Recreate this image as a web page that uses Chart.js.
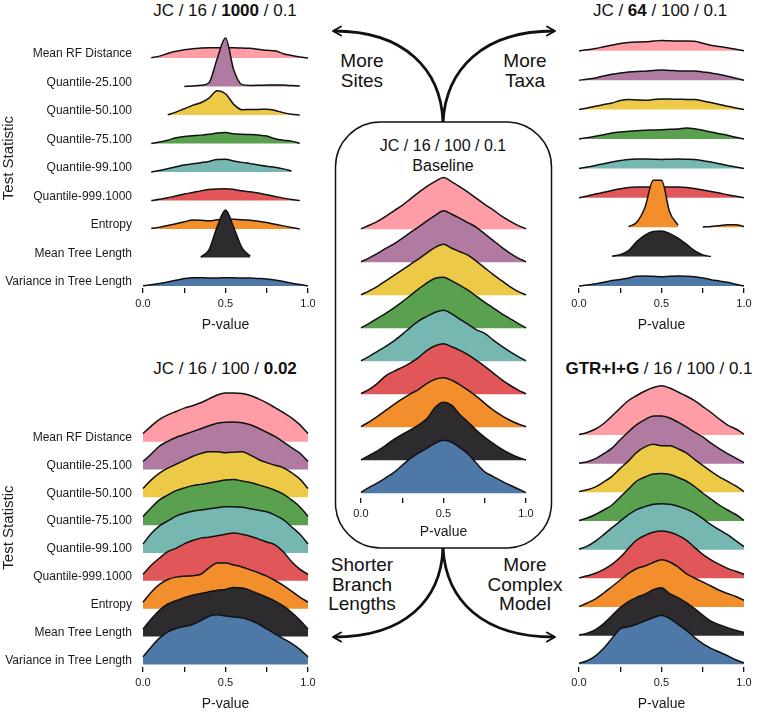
<!DOCTYPE html>
<html>
<head>
<meta charset="utf-8">
<script src="https://cdn.jsdelivr.net/npm/chart.js@4.4.1/dist/chart.umd.min.js"></script>
<style>
  body { margin: 0; background: #fff; width: 760px; height: 714px; overflow: hidden; position: relative;
         font-family: "Liberation Sans", Arial, sans-serif; color: #111; }
  canvas { position: absolute; }
  .ttl { position: absolute; transform: translate(-50%, -50%); white-space: nowrap; font-size: 17px; }
  .note { position: absolute; transform: translate(-50%, -50%); text-align: center; font-size: 19px; line-height: 19.5px; white-space: nowrap; }
</style>
</head>
<body>

<svg width="760" height="714" style="position:absolute;left:0;top:0">
  <rect x="335.5" y="122" width="216" height="426" rx="45" ry="45" fill="none" stroke="#111" stroke-width="1.5"/>
  <g fill="none" stroke="#111" stroke-width="2.8">
    <path d="M443,122 C441,70 405,31 334,31"/>
    <path d="M443,122 C446,70 482,31 554,31"/>
    <path d="M443,548 C441,600 405,637 334,637"/>
    <path d="M443,548 C446,600 482,637 554,637"/>
  </g>
  <g fill="none" stroke="#111" stroke-width="2" stroke-linecap="round" stroke-linejoin="round">
    <polyline points="341,26.5 333,31 341,35.5"/>
    <polyline points="547,26.5 555,31 547,35.5"/>
    <polyline points="341,632.5 333,637 341,641.5"/>
    <polyline points="547,632.5 555,637 547,641.5"/>
  </g>
</svg>

<div class="ttl" style="left:225px;top:11px">JC / 16 / <b>1000</b> / 0.1</div>
<div class="ttl" style="left:660px;top:11px">JC / <b>64</b> / 100 / 0.1</div>
<div class="ttl" style="left:443px;top:146px;font-size:16px">JC / 16 / 100 / 0.1</div>
<div class="ttl" style="left:443px;top:166px;font-size:16px">Baseline</div>
<div class="ttl" style="left:225px;top:369px">JC / 16 / 100 / <b>0.02</b></div>
<div class="ttl" style="left:659px;top:369px"><b>GTR+I+G</b> / 16 / 100 / 0.1</div>

<div class="note" style="left:362px;top:70px">More<br>Sites</div>
<div class="note" style="left:525px;top:70px">More<br>Taxa</div>
<div class="note" style="left:362px;top:584px">Shorter<br>Branch<br>Lengths</div>
<div class="note" style="left:525px;top:584px">More<br>Complex<br>Model</div>

<canvas id="sites" width="320" height="326" style="left:0;top:10px"></canvas>
<canvas id="taxa" width="189" height="326" style="left:567px;top:10px"></canvas>
<canvas id="baseline" width="189" height="381" style="left:349px;top:162px"></canvas>
<canvas id="shorter" width="320" height="345" style="left:0;top:370px"></canvas>
<canvas id="model" width="189" height="345" style="left:567px;top:370px"></canvas>

<script>
// p-value grid shared by every ridge
const pGrid = [0, 0.05, 0.1, 0.15, 0.2, 0.25, 0.3, 0.35, 0.4, 0.45, 0.5,
               0.55, 0.6, 0.65, 0.7, 0.75, 0.8, 0.85, 0.9, 0.95, 1];

const statNames = ['Mean RF Distance', 'Quantile-25.100', 'Quantile-50.100', 'Quantile-75.100',
                   'Quantile-99.100', 'Quantile-999.1000', 'Entropy', 'Mean Tree Length',
                   'Variance in Tree Length'];

const xTickVals = [0, 0.25, 0.5, 0.75, 1];
const xTickText = ['0.0', '', '0.5', '', '1.0'];

// ridge heights (scaled density), one row per test statistic, null = outside data range
const sitesDensity = [
  [null, 0.3, 2, 4.7, 7, 8.5, 9.7, 10.3, 10.7, 10.7, 10.7, 10.7, 10.3, 10, 9, 8, 7.5, 4.5, 2.7, 1.2, 0],
  [null, null, null, null, null, 0, 0.7, 1.3, 4, 29, 50, 17, 2, 1.2, 1.3, 1.5, 1.7, 1.5, 1, 0.5, null],
  [null, null, null, 0.3, 3, 6.5, 10, 12.7, 17.5, 25, 22, 11, 5.5, 5.7, 5.8, 6, 4.8, 2.5, 0.8, 0, null],
  [null, 0, 1.5, 3.5, 6, 7.3, 8, 8.7, 9.5, 11, 11.5, 10, 9.5, 9.3, 8.8, 7.7, 5, 3.5, 2.5, 0.3, null],
  [null, 0, 1.7, 3.5, 5.5, 7.3, 8.5, 9.7, 11, 13, 13.3, 11.5, 10, 8.7, 7.3, 6, 5, 3.3, 1, null, null],
  [null, 0, 1.3, 3, 4.7, 6.7, 8.3, 10, 11.3, 12, 12.3, 11.5, 10, 9, 7.7, 6, 4.3, 2.5, 1, 0, null],
  [null, 0.5, 2, 3.7, 5.5, 7.5, 9.3, 9, 8.5, 9.5, 10.5, 10, 9.7, 9, 8, 6.7, 5, 3.3, 1.7, 0, null],
  [null, null, null, null, null, null, null, 0.5, 8, 32, 49, 31, 10, 1.5, null, null, null, null, null, null, null],
  [0.3, 1.3, 2.7, 4.3, 6, 7.7, 8.7, 8.7, 8.3, 8.3, 8.7, 8.5, 8.3, 8.2, 7.8, 7.3, 6.3, 4.7, 3, 1.5, 0.3]
];

const taxaDensity = [
  [0, 1, 2.3, 4, 5.7, 7.3, 8.3, 8.8, 9, 9.7, 10.3, 10, 9.7, 9.7, 9.5, 7.5, 5.5, 4.2, 3, 1.5, 0],
  [0, 1, 2.3, 4.3, 6, 7.3, 8.3, 8.8, 9, 9.7, 10.3, 9.8, 9.3, 9.3, 9.3, 8.3, 7.3, 5.7, 4, 2, 0],
  [0, 1.5, 3.3, 5, 6.7, 9, 10, 9.7, 9.3, 10, 10.7, 10.5, 10.3, 10.2, 10, 8.7, 7, 5, 3.3, 1.7, 0],
  [0, 1.2, 2.7, 4.3, 6, 7, 7.7, 8.3, 8.7, 9, 9.3, 9.7, 10, 11, 10.3, 8.7, 7, 5.3, 3.7, 1.8, 0],
  [0, 1.3, 3, 4.7, 6.3, 7.8, 9, 9.3, 9.3, 9.2, 9, 9.2, 9.3, 9.2, 9, 7.7, 6.3, 4.7, 3, 1.5, 0],
  [0, 1.8, 3.7, 5.5, 7.3, 9, 10.3, 10.7, 10.7, 10.7, 10.7, 10.7, 10.7, 10.3, 9.3, 7.8, 6.3, 4.7, 3, 1.5, 0],
  [null, null, null, null, null, null, 0.5, 5, 20, 47, 47, 15, 2, null, null, 0.3, 0.8, 1.5, 2.5, 2.5, 0.7],
  [null, null, null, null, 0.3, 2, 6, 15, 21.5, 25, 25.5, 23, 18.5, 12.5, 6, 1.7, 0, null, null, null, null],
  [0, 1, 2.3, 3.7, 5.5, 6.5, 8, 9.7, 10, 9.7, 9.3, 9.7, 10, 9.8, 9.3, 8, 6.3, 5, 3.7, 1.8, 0]
];

const baselineDensity = [
  [0.5, 4, 8, 13, 18.5, 24, 30.5, 37, 43, 48, 51.7, 47.5, 42.5, 37, 31, 25, 19.5, 13.5, 8.5, 4, 0.5],
  [0.5, 4.5, 9, 14, 18.5, 24, 30, 35.5, 41.5, 47, 51.5, 48, 44, 39.5, 35, 28.5, 22, 15.5, 9.5, 4.5, 0.5],
  [0.5, 4.5, 9, 14.5, 20, 25.5, 31, 36.5, 42.5, 48, 51, 47, 43.5, 40, 34, 27.5, 21, 15, 9, 4, 0.5],
  [0.5, 5, 10, 15, 20.5, 26.5, 33, 39.5, 45.5, 50, 51, 47.5, 43, 38, 32, 26, 20.5, 15, 10, 5, 0.5],
  [0.5, 5, 10, 15, 20.5, 27, 34, 40.5, 45, 49, 51, 47.5, 42, 37, 31.5, 28, 21.5, 15.5, 10, 5, 0.5],
  [0.7, 5, 11, 18.5, 23, 27, 31.5, 37, 44, 48.5, 50.5, 47.5, 44, 39.5, 34, 28, 21.5, 15, 9.3, 4.5, 0.5],
  [0.7, 5.5, 11, 17, 23, 28.5, 33.5, 38, 44, 48, 49.5, 47, 42.5, 37, 31, 24, 17.5, 12, 7.3, 3.5, 0.5],
  [0.5, 5, 9.5, 15, 21, 26, 30.5, 35.5, 41.7, 53, 58, 55, 45.5, 38, 30, 23, 17, 11.5, 7, 3, 0.3],
  [1, 6, 10.5, 15.5, 21, 28, 35, 40.5, 45, 50, 53, 51, 45.5, 39, 30, 21.5, 17, 12.5, 8.3, 4.5, 0.7]
];

const shorterDensity = [
  [8.3, 16, 23, 27.5, 31, 34.5, 37, 40, 44, 48, 50, 50, 49.5, 47.5, 44, 40, 35, 30, 24.5, 17.5, 8.3],
  [8.3, 16, 24, 29, 33, 36, 39, 42, 45, 47.7, 48.7, 49, 48, 46, 42.5, 38.3, 34, 28.5, 22.5, 17, 8.3],
  [9, 18, 25, 30, 34, 38, 42, 45, 47, 47, 46, 46.5, 47, 43.5, 39, 35.7, 33, 30.5, 25.5, 19, 9],
  [9, 18, 26, 31, 35.5, 38.3, 40.7, 42, 43.5, 45, 46.5, 47, 45.5, 44, 41.5, 39, 36, 32, 26, 19, 9],
  [9.3, 20, 28, 33, 38, 41, 43, 44.3, 45.5, 46.7, 47.5, 47.7, 47, 45.5, 44, 42.5, 39, 34.3, 27, 19.5, 9.3],
  [6.7, 16, 23.5, 30, 33.5, 38, 41.5, 44, 45, 46.5, 48, 49.3, 48, 46, 43, 40, 37, 30, 20, 12, 6.7],
  [6.7, 17, 25, 30, 32.5, 33.5, 34, 35.5, 42, 47, 47, 45, 43, 40, 37, 33.5, 29, 24, 18, 12, 6.7],
  [7.7, 18, 27, 33.5, 37, 40, 42.5, 44.3, 46, 47.7, 48.5, 50.5, 50, 47.5, 44, 40.5, 36.5, 31.5, 25, 17, 7.7],
  [7.7, 18, 27, 33.5, 37, 39, 41, 45, 49.5, 51, 49.7, 48.7, 48, 45.5, 41.5, 36.5, 31.5, 26.5, 21.5, 15.5, 7.7]
];

const modelDensity = [
  [0.5, 2.5, 6, 11.5, 19, 27, 34.5, 39.5, 44, 47.5, 49.3, 47, 43, 39, 34.5, 28.5, 22.5, 16, 10, 6, 1],
  [0.5, 2, 5, 10, 15.5, 24, 32, 39, 44, 47.7, 47.7, 45.7, 41.5, 36.7, 31.5, 26.7, 20.5, 15, 10, 5.5, 1],
  [0.7, 2.5, 5.5, 10.5, 16, 24, 31.5, 40, 45.5, 48, 46.7, 46.5, 43.5, 39.5, 33, 27, 21, 15.5, 11, 6.5, 0.7],
  [0.5, 3, 6.5, 11, 16, 24, 32, 40, 44, 47, 47.5, 46.5, 43.5, 40, 34.5, 28, 22, 16, 11, 6.5, 0.7],
  [0.5, 3.5, 8.5, 15, 22, 28.5, 35, 40, 43, 45.5, 46, 45.5, 43.5, 40.5, 36.5, 31, 25, 20, 15, 9, 3],
  [0.5, 2.5, 5, 9, 14, 21, 30, 38.3, 43, 46, 47.3, 46, 43, 38.3, 31, 24, 18.5, 14, 10, 7, 4],
  [0.5, 4, 8, 14, 20.5, 27, 33.5, 38.5, 41, 44.5, 47.3, 45, 40, 33.3, 29, 25, 21, 16.7, 13.5, 10.5, 6.7],
  [0.5, 2.5, 6, 12, 20, 28, 34, 38.3, 41.5, 46, 48, 42, 38, 33, 27, 20.5, 14.5, 11, 8, 5.5, 3.3],
  [1, 3.5, 8.5, 16, 26, 35.5, 37.5, 40, 43.5, 46.5, 49, 45.7, 40, 34, 27, 20.7, 16, 12.3, 8.5, 4.5, 1.3]
];

const ridgeColors = ['#FF9DA7', '#B07AA1', '#EDC948', '#59A14F', '#76B7B2',
                     '#E15759', '#F28E2B', '#2E2B2F', '#4E79A7'];

Chart.defaults.font.family = '"Liberation Sans", Arial, sans-serif';
Chart.defaults.color = '#1a1a1a';

const ridgePanel = (id, density, geo) => {
  const nRows = density.length;
  const datasets = density.map((row, i) => {
    const base = (nRows - 1 - i) * geo.step;
    return {
      data: pGrid.map((p, j) => ({ x: p, y: row[j] == null ? null : base + row[j] })),
      fill: { value: base },
      backgroundColor: ridgeColors[i],
      borderColor: '#111',
      borderWidth: 1.5,
      pointRadius: 0,
      cubicInterpolationMode: 'monotone',
      spanGaps: false,
      clip: false,
      order: nRows - 1 - i
    };
  });

  new Chart(document.getElementById(id), {
    type: 'line',
    data: { datasets },
    options: {
      responsive: false,
      animation: false,
      layout: { padding: { top: 10, right: 12, bottom: 0, left: geo.labels ? 0 : 12 } },
      plugins: { legend: { display: false }, tooltip: { enabled: false } },
      scales: {
        x: {
          type: 'linear', min: 0, max: 1,
          afterBuildTicks: s => { s.ticks = xTickVals.map(v => ({ value: v })); },
          afterFit: s => { s.height = geo.xHeight; },
          grid: { drawOnChartArea: false, drawTicks: true, tickLength: 5, color: '#111', lineWidth: 1.3 },
          border: { display: false },
          ticks: {
            callback: (v, i) => xTickText[i],
            font: { size: 11 }, padding: 4, maxRotation: 0, autoSkip: false
          },
          title: { display: true, text: 'P-value', font: { size: 14 }, padding: { top: 0, bottom: 2 } }
        },
        y: {
          type: 'linear', min: geo.min, max: geo.max,
          display: geo.labels,
          afterBuildTicks: s => { s.ticks = statNames.map((n, i) => ({ value: (nRows - 1 - i) * geo.step })).reverse(); },
          afterFit: s => { if (geo.labels) s.width = 143; },
          grid: { display: false, drawTicks: false },
          border: { display: false },
          ticks: {
            callback: v => statNames[nRows - 1 - Math.round(v / geo.step)],
            font: { size: 12 }, padding: 11, labelOffset: -4, autoSkip: false
          },
          title: { display: true, text: 'Test Statistic', font: { size: 15 }, padding: 0 }
        }
      }
    }
  });
};

ridgePanel('sites', sitesDensity, { step: 29.4, min: -2, max: 266, xHeight: 48, labels: true });
ridgePanel('taxa', taxaDensity, { step: 29.4, min: -2, max: 266, xHeight: 48, labels: false });
ridgePanel('baseline', baselineDensity, { step: 33, min: -4.7, max: 321.3, xHeight: 45, labels: false });
ridgePanel('shorter', shorterDensity, { step: 28.66, min: -2.7, max: 284.3, xHeight: 48, labels: true });
ridgePanel('model', modelDensity, { step: 28.66, min: -2.7, max: 284.3, xHeight: 48, labels: false });
</script>
</body>
</html>
